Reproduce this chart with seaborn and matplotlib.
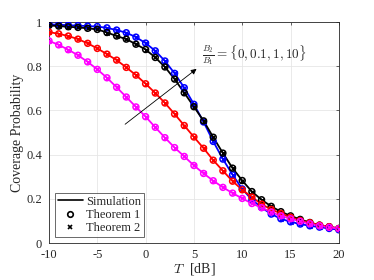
import numpy as np
import pandas as pd
import matplotlib
matplotlib.use('Agg')
import matplotlib.pyplot as plt
import seaborn as sns

# 横轴 T [dB]
T_dB = list(range(-10, 21))

# 覆盖概率, B2/B1 = 0, 0.1, 1, 10
cov_b0 = [0.990, 0.988, 0.986, 0.984, 0.982, 0.980, 0.974, 0.964, 0.952, 0.932,
          0.905, 0.870, 0.824, 0.768, 0.703, 0.628, 0.548, 0.460, 0.380, 0.309,
          0.245, 0.196, 0.161, 0.131, 0.110, 0.096, 0.086, 0.078, 0.072, 0.066, 0.060]
cov_b01 = [0.985, 0.982, 0.979, 0.976, 0.972, 0.967, 0.953, 0.937, 0.923, 0.900,
           0.876, 0.840, 0.797, 0.742, 0.680, 0.617, 0.553, 0.479, 0.407, 0.339,
           0.283, 0.233, 0.196, 0.166, 0.142, 0.123, 0.107, 0.093, 0.081, 0.074, 0.066]
cov_b1 = [0.955, 0.947, 0.937, 0.923, 0.904, 0.881, 0.855, 0.828, 0.795, 0.760,
          0.721, 0.679, 0.634, 0.584, 0.532, 0.480, 0.429, 0.375, 0.327, 0.280,
          0.241, 0.208, 0.176, 0.152, 0.134, 0.117, 0.102, 0.092, 0.081, 0.074, 0.066]
cov_b10 = [0.915, 0.897, 0.875, 0.850, 0.820, 0.786, 0.748, 0.705, 0.661, 0.616,
           0.572, 0.524, 0.477, 0.432, 0.392, 0.351, 0.315, 0.282, 0.252, 0.226,
           0.202, 0.179, 0.160, 0.140, 0.123, 0.110, 0.098, 0.087, 0.078, 0.071, 0.065]

ratios = ['0', '0.1', '1', '10']
colors = ['#0000ff', '#000000', '#ff0000', '#ff00ff']

rows = []
for r, vals in zip(ratios, [cov_b0, cov_b01, cov_b1, cov_b10]):
    for t, v in zip(T_dB, vals):
        rows.append({'T': t, 'P': v, 'ratio': r})
df = pd.DataFrame(rows)

sns.set_style('white')
plt.rcParams['font.family'] = ['Liberation Serif', 'DejaVu Serif']
plt.rcParams['mathtext.fontset'] = 'cm'
plt.rcParams['axes.unicode_minus'] = False

fig = plt.figure(figsize=(3.74, 2.8), dpi=100)
ax = fig.add_axes([0.131, 0.132, 0.775, 0.789])

pal = dict(zip(ratios, colors))
sns.lineplot(data=df, x='T', y='P', hue='ratio', palette=pal, lw=1.3,
             legend=False, ax=ax, zorder=2)
for r in ratios:
    sub = df[df['ratio'] == r]
    sns.scatterplot(data=sub, x='T', y='P', marker='o', s=18, facecolor='none',
                    edgecolor=pal[r], linewidth=1.1, legend=False, ax=ax, zorder=3)
    sns.scatterplot(data=sub, x='T', y='P', marker='x', s=10, color=pal[r],
                    linewidth=1.0, legend=False, ax=ax, zorder=3)

ax.set_xlim(-10, 20)
ax.set_ylim(0, 1)
ax.set_xticks([-10, -5, 0, 5, 10, 15, 20])
ax.set_yticks([0, 0.2, 0.4, 0.6, 0.8, 1])
ax.set_yticklabels(['0', '0.2', '0.4', '0.6', '0.8', '1'])
ax.grid(True, color='#e6e6e6', lw=0.6)
ax.set_axisbelow(True)
for s in ax.spines.values():
    s.set_color('#262626')
    s.set_linewidth(0.6)
ax.tick_params(direction='in', length=2.5, width=0.5, top=True, right=True,
               labelsize=9, colors='#262626')
ax.tick_params(axis='x', pad=4)
ax.tick_params(axis='y', pad=5)
ax.set_xlabel(r'$T\ \ $[dB]', fontsize=10, labelpad=0)
ax.set_ylabel('Coverage Probability', fontsize=10, labelpad=2)

ax.annotate('', xy=(5.5, 0.796), xytext=(-2.35, 0.53),
            arrowprops=dict(arrowstyle='-|>', color='black', lw=0.6,
                            mutation_scale=8))
ax.text(5.8, 0.85, r'$\frac{B_2}{B_1} = \{0, 0.1, 1, 10\}$', fontsize=9.5,
        va='center', ha='left')

h1, = ax.plot([], [], color='black', lw=1.2, label='Simulation')
h2, = ax.plot([], [], 'o', mfc='none', mec='black', mew=1.2, ms=4, label='Theorem 1')
h3, = ax.plot([], [], 'x', color='black', mew=1.2, ms=3, label='Theorem 2')
leg = ax.legend(handles=[h1, h2, h3], loc='lower left', fontsize=9,
                frameon=True, fancybox=False, edgecolor='#262626',
                borderpad=0.2, labelspacing=0.1, handlelength=2.0,
                handletextpad=0.3, borderaxespad=0.5)
leg.get_frame().set_linewidth(0.6)

fig.savefig('out.png', dpi=100)
